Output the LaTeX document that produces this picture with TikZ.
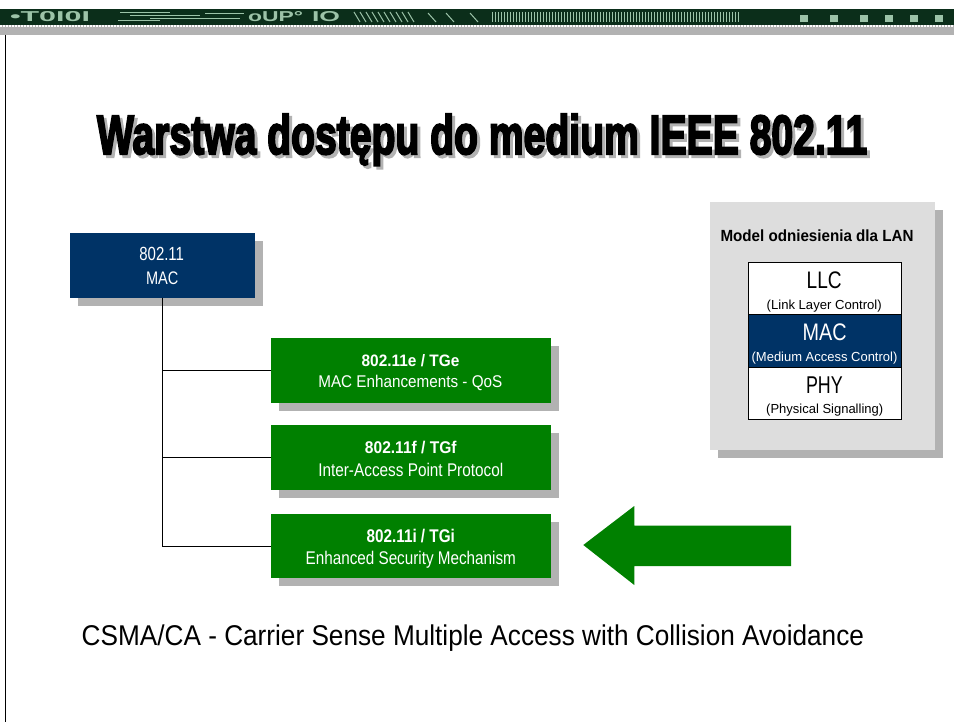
\documentclass[tikz,border=0pt]{standalone}
\usepackage{fontspec}
\usepackage{graphicx}
\setmainfont{Liberation Sans}
\newfontfamily\titlefont{Liberation Sans}[UprightFont={* Bold}, FakeBold=4]
\usetikzlibrary{shadows}

\definecolor{macblue}{HTML}{003366}
\definecolor{tggreen}{HTML}{008000}
\definecolor{shadowgray}{HTML}{B2B2B2}
\definecolor{panelgray}{HTML}{DDDDDD}
\definecolor{banddark}{HTML}{0B2E1A}
\definecolor{bandlight}{HTML}{9CC3A8}

% scale a piece of text to a given width and height (in pt)
\newcommand\fittext[3]{\resizebox{#1pt}{#2pt}{#3}}

\tikzset{
  shadowed/.style={drop shadow={shadow xshift=8pt, shadow yshift=-8pt, opacity=1, fill=shadowgray}},
  macbox/.style={rectangle, fill=macblue, shadowed},
  tgbox/.style={rectangle, fill=tggreen, shadowed, minimum width=280pt, minimum height=64.5pt},
  panel/.style={rectangle, fill=panelgray, shadowed},
  cell/.style={rectangle, draw=black, line width=0.8pt, minimum width=153.4pt},
  wire/.style={draw=black, line width=1.2pt},
  lbl/.style={anchor=base, inner sep=0pt, outer sep=0pt},
  deco/.style={draw=bandlight, line width=1pt},
}

\begin{document}
\begin{tikzpicture}[x=1pt, y=-1pt, every node/.style={inner sep=0pt, outer sep=0pt}]
\useasboundingbox[fill=white] (0,0) rectangle (954,722);

% ---- header band ----
\fill[banddark] (0,9) rectangle (954,25);
\fill[shadowgray] (0,25) rectangle (954,35);
\draw[white, line width=2pt, dash pattern=on 1.5pt off 1.5pt] (0,26.5) -- (954,26.5);
\node[lbl, anchor=base west, text=bandlight] (bandA) at (10,22) {\fittext{80}{10}{\bfseries\textbullet T0I0I}};
\foreach \yy/\xa/\xb in {13/120/170, 16/130/200, 19/150/240, 14/205/244, 21/118/160}
  \draw[deco] (\xa,\yy) -- (\xb,\yy);
\node[lbl, anchor=base west, text=bandlight] (bandB) at (248,22) {\fittext{55}{10}{\bfseries oUP°}};
\node[lbl, anchor=base west, text=bandlight] (bandC) at (312,22) {\fittext{28}{10}{\bfseries IO}};
\foreach \xx in {354,360,...,410}
  \draw[deco] (\xx,12) -- (\xx+6,22);
\foreach \xx in {428,446,470}
  \draw[deco] (\xx,13) -- (\xx+8,22);
\foreach \xx in {492,495,...,740}
  \draw[bandlight, line width=0.9pt] (\xx,12) -- (\xx,22);
\foreach \xx in {800,830,860,885,910,935}
  \fill[bandlight] (\xx,15) rectangle (\xx+8,22);

% left margin rule
\draw[black, line width=1.5pt] (5.5,35) -- (5.5,722);

% ---- title ----
\node[lbl, anchor=base west, text=shadowgray] (titleshadow) at (100,157)
  {\fittext{770}{40}{\titlefont Warstwa dostępu do medium IEEE 802.11}};
\node[lbl, anchor=base west, text=black] (title) at (97,154)
  {\fittext{770}{40}{\titlefont Warstwa dostępu do medium IEEE 802.11}};

% ---- MAC tree ----
\node[macbox, minimum width=185pt, minimum height=64.4pt] (mac) at (162.5,265.5) {};
\node[lbl, text=white] (macA) at (161.7,261) {\fittext{44.7}{13.3}{802.11}};
\node[lbl, text=white] (macB) at (162.2,284.3) {\fittext{32.3}{12.7}{MAC}};

\node[tgbox] (tge) at (411,370.5) {};
\node[tgbox] (tgf) at (411,457.5) {};
\node[tgbox] (tgi) at (411,546.2) {};

\draw[wire] (mac.south) |- (tge.west);
\draw[wire] (mac.south) |- (tgf.west);
\draw[wire] (mac.south) |- (tgi.west);

\node[lbl, text=white] (tgeA) at (410.5,366) {\fittext{97.7}{12}{\bfseries 802.11e / TGe}};
\node[lbl, text=white] (tgeB) at (410.3,387.3) {\fittext{184}{12.3}{MAC Enhancements - QoS}};
\node[lbl, text=white] (tgfA) at (410.8,453.3) {\fittext{91.7}{12.3}{\bfseries 802.11f / TGf}};
\node[lbl, text=white] (tgfB) at (410.8,476) {\fittext{185}{13.3}{Inter-Access Point Protocol}};
\node[lbl, text=white] (tgiA) at (410.8,542.7) {\fittext{88.3}{13.3}{\bfseries 802.11i / TGi}};
\node[lbl, text=white] (tgiB) at (410.8,564) {\fittext{210.3}{13.3}{Enhanced Security Mechanism}};

% big pointer towards 802.11i
\fill[tggreen] (583.3,545) -- (634.3,506) -- (634.3,525.7) -- (791,525.7)
  -- (791,566) -- (634.3,566) -- (634.3,585) -- cycle;

% ---- LAN reference model ----
\node[panel, minimum width=225pt, minimum height=248.3pt] (model) at (822.5,325.85) {};
\node[lbl] (modeltitle) at (817,242) {\fittext{193}{11.7}{\bfseries Model odniesienia dla LAN}};

\node[cell, fill=white, minimum height=51.7pt] (llc) at (825,288.15) {};
\node[cell, fill=macblue, minimum height=53pt] (macl) at (825,340.5) {};
\node[cell, fill=white, minimum height=52pt] (phy) at (825,393) {};

\node[lbl] (llcA) at (824.2,289) {\fittext{35}{16.7}{LLC}};
\node[lbl] (llcB) at (824.2,309.5) {\fittext{115}{9.5}{(Link Layer Control)}};
\node[lbl, text=white] (maclA) at (824.7,341) {\fittext{44}{16.7}{MAC}};
\node[lbl, text=white] (maclB) at (824.5,361.7) {\fittext{145.7}{9.5}{(Medium Access Control)}};
\node[lbl] (phyA) at (824.4,393.3) {\fittext{36.7}{16.7}{PHY}};
\node[lbl] (phyB) at (824.7,413.5) {\fittext{117}{9.5}{(Physical Signalling)}};

% ---- footer line ----
\node[lbl] (csma) at (472.9,645) {\fittext{782.3}{20.7}{CSMA/CA - Carrier Sense Multiple Access with Collision Avoidance}};
\end{tikzpicture}
\end{document}
